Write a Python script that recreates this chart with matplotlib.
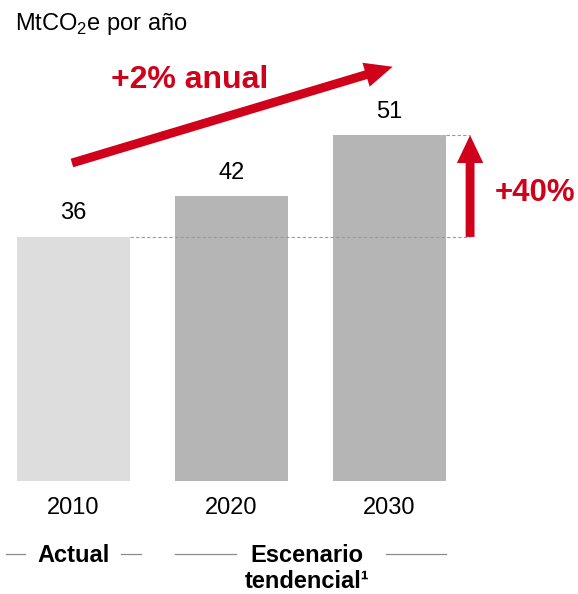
import numpy as np
import matplotlib
matplotlib.use("Agg")
import matplotlib.pyplot as plt
from matplotlib.patches import FancyArrowPatch

plt.rcParams['font.family'] = ['Liberation Sans', 'DejaVu Sans']
plt.rcParams['mathtext.fontset'] = 'custom'
plt.rcParams['mathtext.rm'] = 'Liberation Sans'

# Data
years = ["2010", "2020", "2030"]
values = [36, 42, 51]
bar_colors = ["#DDDDDD", "#B5B5B5", "#B5B5B5"]
growth_label = "+2% anual"
total_label = "+40%"
unit_label = "MtCO$_\\mathrm{2}$e por año"

W, H = 578, 594
RED = "#D0021B"
px_unit = 158.0      # pixels per bar slot
px_val = 6.78        # pixels per MtCO2e
x0_px, base_px = 73.5, 481

fig = plt.figure(figsize=(W / 100, H / 100), dpi=100)
ax = fig.add_axes([0, 0, 1, 1])
ax.set_xlim(-x0_px / px_unit, (W - x0_px) / px_unit)
ax.set_ylim(-(H - base_px) / px_val, base_px / px_val)
ax.axis("off")

def fx(px):
    return px / W

def fy(py):
    return 1 - py / H

x = np.arange(len(years))
width = 0.72
ax.bar(x, values, width=width, color=bar_colors, edgecolor="none")

# value labels and year labels
for xi, v, yr in zip(x, values, years):
    ax.annotate(str(v), (xi, v), xytext=(0, 9), textcoords="offset points",
                ha="center", va="bottom", fontsize=17, color="black")
    ax.text(xi, -4.0, yr, ha="center", va="center", fontsize=17, color="black")

# dashed reference lines
x_arrow = 2.51
ax.plot([x[0] + width / 2, x_arrow], [values[0], values[0]], color="#9A9A9A",
        lw=0.8, ls=(0, (3, 2)))
ax.plot([x[2] + width / 2, x_arrow], [values[2], values[2]], color="#9A9A9A",
        lw=0.8, ls=(0, (3, 2)))

# vertical +40% arrow
va = FancyArrowPatch((x_arrow, values[0]), (x_arrow, values[2]),
                     arrowstyle="simple,head_length=1.0,head_width=0.95,tail_width=0.32",
                     mutation_scale=20, color=RED, lw=0, shrinkA=0, shrinkB=0)
ax.add_patch(va)
fig.text(fx(535), fy(193), total_label, ha="center", va="center",
         fontsize=22.5, fontweight="bold", color=RED)

# diagonal growth arrow
da = FancyArrowPatch((-0.01, 46.9), (2.02, 61.1),
                     arrowstyle="simple,head_length=1.0,head_width=0.9,tail_width=0.32",
                     mutation_scale=20, color=RED, lw=0, shrinkA=0, shrinkB=0)
ax.add_patch(da)
fig.text(fx(190), fy(80), growth_label, ha="center", va="center",
         fontsize=23, fontweight="bold", color=RED)

# unit label
fig.text(fx(15), fy(24), unit_label, ha="left", va="center", fontsize=17)

# group labels with side lines
fig.text(fx(73.5), fy(556), "Actual", ha="center", va="center",
         fontsize=17, fontweight="bold")
fig.text(fx(307), fy(556), "Escenario", ha="center", va="center",
         fontsize=17, fontweight="bold")
fig.text(fx(307), fy(582), "tendencial¹", ha="center", va="center",
         fontsize=17, fontweight="bold")
for a, b in [(6, 25), (121, 141), (175, 236), (386, 446)]:
    ax.plot([fx(a), fx(b)], [fy(554), fy(554)], transform=ax.transAxes,
            color="#8C8C8C", lw=0.9)

fig.savefig("out.png", dpi=100)
